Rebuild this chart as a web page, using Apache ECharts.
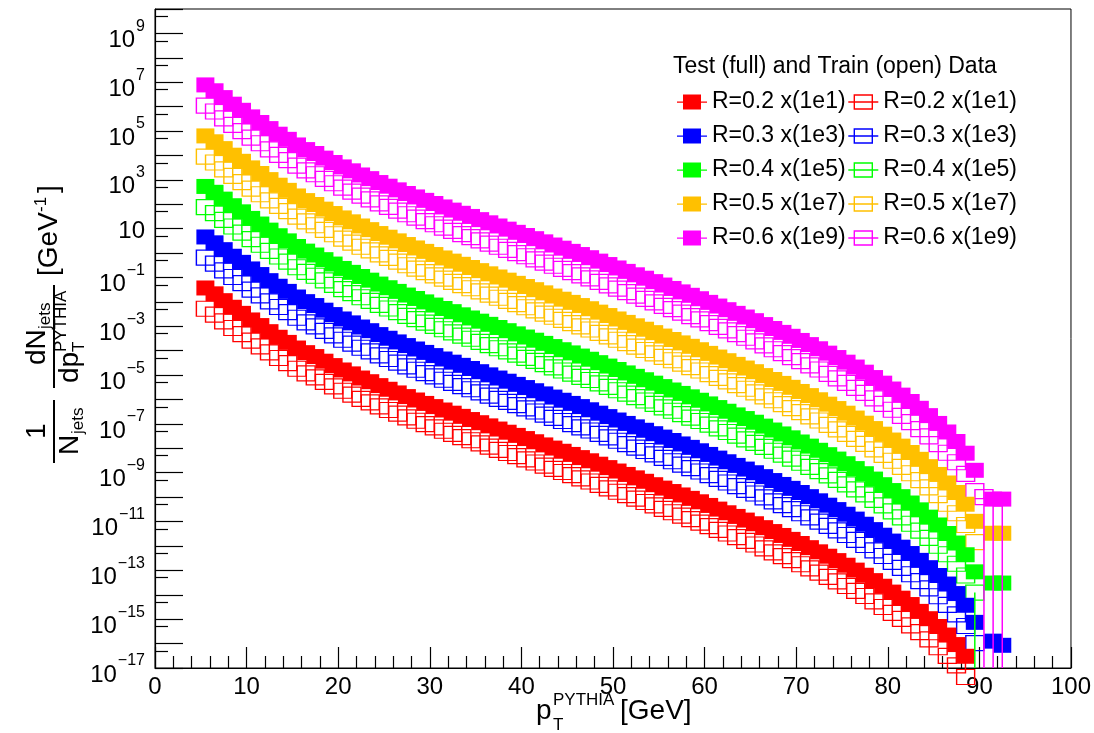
<!DOCTYPE html>
<html><head><meta charset="utf-8">
<script src="https://cdn.jsdelivr.net/npm/echarts@6/dist/echarts.min.js"></script>
<style>html,body{margin:0;padding:0;background:#fff}#c{width:1094px;height:733px}</style>
</head><body><div id="c"></div>
<script>
// bin centres of p_T (GeV)
const pT = [5.5,6.5,7.5,8.5,9.5,10.5,11.5,12.5,13.5,14.5,15.5,16.5,17.5,18.5,19.5,20.5,21.5,22.5,23.5,24.5,25.5,26.5,27.5,28.5,29.5,30.5,31.5,32.5,33.5,34.5,35.5,36.5,37.5,38.5,39.5,40.5,41.5,42.5,43.5,44.5,45.5,46.5,47.5,48.5,49.5,50.5,51.5,52.5,53.5,54.5,55.5,56.5,57.5,58.5,59.5,60.5,61.5,62.5,63.5,64.5,65.5,66.5,67.5,68.5,69.5,70.5,71.5,72.5,73.5,74.5,75.5,76.5,77.5,78.5,79.5,80.5,81.5,82.5,83.5,84.5,85.5,86.5,87.5,88.5,89.5,90.5,91.5,92.5];

// log10 of the plotted value (spectrum x legend factor)
const testR02 = [-1.43,-1.67,-1.95,-2.22,-2.47,-2.74,-2.97,-3.22,-3.45,-3.66,-3.89,-4.08,-4.24,-4.43,-4.61,-4.79,-4.95,-5.12,-5.27,-5.43,-5.58,-5.73,-5.88,-6.02,-6.16,-6.29,-6.43,-6.56,-6.69,-6.82,-6.95,-7.08,-7.21,-7.34,-7.47,-7.60,-7.73,-7.86,-7.99,-8.12,-8.25,-8.38,-8.51,-8.65,-8.79,-8.93,-9.07,-9.21,-9.35,-9.49,-9.63,-9.77,-9.91,-10.05,-10.19,-10.34,-10.49,-10.64,-10.79,-10.94,-11.09,-11.25,-11.41,-11.57,-11.73,-11.90,-12.07,-12.24,-12.42,-12.60,-12.79,-12.99,-13.20,-13.42,-13.65,-13.89,-14.14,-14.40,-14.68,-14.98,-15.30,-15.65,-16.04,-16.52,null,null,null,null];
const trainR02 = [-2.28,-2.52,-2.80,-3.07,-3.32,-3.59,-3.82,-4.07,-4.30,-4.51,-4.74,-4.93,-5.09,-5.28,-5.46,-5.64,-5.80,-5.97,-6.12,-6.28,-6.43,-6.58,-6.73,-6.87,-7.01,-7.14,-7.28,-7.41,-7.54,-7.67,-7.80,-7.93,-8.06,-8.19,-8.32,-8.45,-8.58,-8.71,-8.84,-8.97,-9.10,-9.23,-9.36,-9.50,-9.64,-9.78,-9.92,-10.06,-10.20,-10.34,-10.48,-10.62,-10.76,-10.90,-11.04,-11.19,-11.34,-11.49,-11.64,-11.79,-11.94,-12.10,-12.26,-12.42,-12.58,-12.75,-12.92,-13.09,-13.27,-13.45,-13.64,-13.84,-14.05,-14.27,-14.50,-14.74,-14.99,-15.25,-15.53,-15.83,-16.15,-16.50,-16.89,-17.37,null,null,null,null];
const testR03 = [0.66,0.42,0.14,-0.13,-0.38,-0.65,-0.88,-1.13,-1.36,-1.57,-1.80,-1.99,-2.15,-2.34,-2.52,-2.70,-2.86,-3.03,-3.18,-3.34,-3.49,-3.64,-3.79,-3.93,-4.07,-4.20,-4.34,-4.47,-4.60,-4.73,-4.86,-4.99,-5.12,-5.25,-5.38,-5.51,-5.64,-5.77,-5.90,-6.03,-6.16,-6.29,-6.42,-6.56,-6.70,-6.84,-6.98,-7.12,-7.26,-7.40,-7.54,-7.68,-7.82,-7.96,-8.10,-8.25,-8.40,-8.55,-8.70,-8.85,-9.00,-9.16,-9.32,-9.48,-9.64,-9.81,-9.98,-10.15,-10.33,-10.51,-10.70,-10.90,-11.11,-11.33,-11.56,-11.80,-12.05,-12.31,-12.59,-12.89,-13.21,-13.56,-13.95,-14.43,-15.13,null,-15.90,-16.07];
const trainR03 = [-0.19,-0.43,-0.71,-0.98,-1.23,-1.50,-1.73,-1.98,-2.21,-2.42,-2.65,-2.84,-3.00,-3.19,-3.37,-3.55,-3.71,-3.88,-4.03,-4.19,-4.34,-4.49,-4.64,-4.78,-4.92,-5.05,-5.19,-5.32,-5.45,-5.58,-5.71,-5.84,-5.97,-6.10,-6.23,-6.36,-6.49,-6.62,-6.75,-6.88,-7.01,-7.14,-7.27,-7.41,-7.55,-7.69,-7.83,-7.97,-8.11,-8.25,-8.39,-8.53,-8.67,-8.81,-8.95,-9.10,-9.25,-9.40,-9.55,-9.70,-9.85,-10.01,-10.17,-10.33,-10.49,-10.66,-10.83,-11.00,-11.18,-11.36,-11.55,-11.75,-11.96,-12.18,-12.41,-12.65,-12.90,-13.16,-13.44,-13.74,-14.06,-14.41,-14.80,-15.28,-15.98,null,null,null];
const testR04 = [2.73,2.49,2.21,1.94,1.69,1.42,1.19,0.94,0.71,0.50,0.27,0.08,-0.08,-0.27,-0.45,-0.63,-0.79,-0.96,-1.11,-1.27,-1.42,-1.57,-1.72,-1.86,-2.00,-2.13,-2.27,-2.40,-2.53,-2.66,-2.79,-2.92,-3.05,-3.18,-3.31,-3.44,-3.57,-3.70,-3.83,-3.96,-4.09,-4.22,-4.35,-4.49,-4.63,-4.77,-4.91,-5.05,-5.19,-5.33,-5.47,-5.61,-5.75,-5.89,-6.03,-6.18,-6.33,-6.48,-6.63,-6.78,-6.93,-7.09,-7.25,-7.41,-7.57,-7.74,-7.91,-8.08,-8.26,-8.44,-8.63,-8.83,-9.04,-9.26,-9.49,-9.73,-9.98,-10.24,-10.52,-10.82,-11.14,-11.49,-11.88,-12.36,-13.06,null,-13.52,-13.52];
const trainR04 = [1.88,1.64,1.36,1.09,0.84,0.57,0.34,0.09,-0.14,-0.35,-0.58,-0.77,-0.93,-1.12,-1.30,-1.48,-1.64,-1.81,-1.96,-2.12,-2.27,-2.42,-2.57,-2.71,-2.85,-2.98,-3.12,-3.25,-3.38,-3.51,-3.64,-3.77,-3.90,-4.03,-4.16,-4.29,-4.42,-4.55,-4.68,-4.81,-4.94,-5.07,-5.20,-5.34,-5.48,-5.62,-5.76,-5.90,-6.04,-6.18,-6.32,-6.46,-6.60,-6.74,-6.88,-7.03,-7.18,-7.33,-7.48,-7.63,-7.78,-7.94,-8.10,-8.26,-8.42,-8.59,-8.76,-8.93,-9.11,-9.29,-9.48,-9.68,-9.89,-10.11,-10.34,-10.58,-10.83,-11.09,-11.37,-11.67,-11.99,-12.34,-12.73,-13.21,-13.91,null,null,null];
const testR05 = [4.80,4.56,4.28,4.01,3.76,3.49,3.26,3.01,2.78,2.57,2.34,2.15,1.99,1.80,1.62,1.44,1.28,1.11,0.96,0.80,0.65,0.50,0.35,0.21,0.07,-0.06,-0.20,-0.33,-0.46,-0.59,-0.72,-0.85,-0.98,-1.11,-1.24,-1.37,-1.50,-1.63,-1.76,-1.89,-2.02,-2.15,-2.28,-2.42,-2.56,-2.70,-2.84,-2.98,-3.12,-3.26,-3.40,-3.54,-3.68,-3.82,-3.96,-4.11,-4.26,-4.41,-4.56,-4.71,-4.86,-5.02,-5.18,-5.34,-5.50,-5.67,-5.84,-6.01,-6.19,-6.37,-6.56,-6.76,-6.97,-7.19,-7.42,-7.66,-7.91,-8.17,-8.45,-8.75,-9.07,-9.42,-9.81,-10.29,-10.99,null,-11.48,-11.48];
const trainR05 = [3.95,3.71,3.43,3.16,2.91,2.64,2.41,2.16,1.93,1.72,1.49,1.30,1.14,0.95,0.77,0.59,0.43,0.26,0.11,-0.05,-0.20,-0.35,-0.50,-0.64,-0.78,-0.91,-1.05,-1.18,-1.31,-1.44,-1.57,-1.70,-1.83,-1.96,-2.09,-2.22,-2.35,-2.48,-2.61,-2.74,-2.87,-3.00,-3.13,-3.27,-3.41,-3.55,-3.69,-3.83,-3.97,-4.11,-4.25,-4.39,-4.53,-4.67,-4.81,-4.96,-5.11,-5.26,-5.41,-5.56,-5.71,-5.87,-6.03,-6.19,-6.35,-6.52,-6.69,-6.86,-7.04,-7.22,-7.41,-7.61,-7.82,-8.04,-8.27,-8.51,-8.76,-9.02,-9.30,-9.60,-9.92,-10.27,-10.66,-11.14,-11.84,null,null,null];
const testR06 = [6.89,6.65,6.37,6.10,5.85,5.58,5.35,5.10,4.87,4.66,4.43,4.24,4.08,3.89,3.71,3.53,3.37,3.20,3.05,2.89,2.74,2.59,2.44,2.30,2.16,2.03,1.89,1.76,1.63,1.50,1.37,1.24,1.11,0.98,0.85,0.72,0.59,0.46,0.33,0.20,0.07,-0.06,-0.19,-0.33,-0.47,-0.61,-0.75,-0.89,-1.03,-1.17,-1.31,-1.45,-1.59,-1.73,-1.87,-2.02,-2.17,-2.32,-2.47,-2.62,-2.77,-2.93,-3.09,-3.25,-3.41,-3.58,-3.75,-3.92,-4.10,-4.28,-4.47,-4.67,-4.88,-5.10,-5.33,-5.57,-5.82,-6.08,-6.36,-6.66,-6.98,-7.33,-7.72,-8.20,-8.90,null,-10.08,-10.08];
const trainR06 = [6.04,5.80,5.52,5.25,5.00,4.73,4.50,4.25,4.02,3.81,3.58,3.39,3.23,3.04,2.86,2.68,2.52,2.35,2.20,2.04,1.89,1.74,1.59,1.45,1.31,1.18,1.04,0.91,0.78,0.65,0.52,0.39,0.26,0.13,0.00,-0.13,-0.26,-0.39,-0.52,-0.65,-0.78,-0.91,-1.04,-1.18,-1.32,-1.46,-1.60,-1.74,-1.88,-2.02,-2.16,-2.30,-2.44,-2.58,-2.72,-2.87,-3.02,-3.17,-3.32,-3.47,-3.62,-3.78,-3.94,-4.10,-4.26,-4.43,-4.60,-4.77,-4.95,-5.13,-5.32,-5.52,-5.73,-5.95,-6.18,-6.42,-6.67,-6.93,-7.21,-7.51,-7.83,-8.18,-8.57,-9.05,-9.75,-10.00,null,null];

const radii = ['0.2','0.3','0.4','0.5','0.6'];
const factors = ['1e1','1e3','1e5','1e7','1e9'];
const colors = ['#ff0000','#0000ff','#00ff00','#ffc000','#ff00ff'];
const testSets = [testR02,testR03,testR04,testR05,testR06];
const trainSets = [trainR02,trainR03,trainR04,trainR05,trainR06];
// bins whose lower error bar reaches zero: [radius index, test(0)/train(1), pT]
const floorBars = [[2,1,89.5],[4,1,90.5],[4,0,91.5],[4,0,92.5]];

const yMinorTicks = [5e-17,5e-16,5e-15,5e-14,5e-13,5e-12,5e-11,5e-10,5e-9,5e-8,5e-7,5e-6,5e-5,5e-4,5e-3,5e-2,5e-1,5,50,500,5e3,5e4,5e5,5e6,5e7,5e8,5e9];

const FONT = 'Liberation Sans, Arial, Helvetica, sans-serif';
function toPoints(arr){
  const out=[];
  pT.forEach((x,i)=>{ if(arr[i]!==null && arr[i]!==undefined) out.push([x, Math.pow(10, arr[i])]); });
  return out;
}
const labelFor = i => 'R=' + radii[i] + ' x(' + factors[i] + ')';
const trainName = i => labelFor(i) + '\u200b';

const series = [];
trainSets.forEach((arr,i)=>{
  series.push({type:'scatter', name: trainName(i), xAxisIndex:0, yAxisIndex:0, data: toPoints(arr),
    symbol:'rect', symbolSize:[18,15], clip:false, silent:true, z:2,
    itemStyle:{color:'rgba(255,255,255,0)', borderColor: colors[i], borderWidth:1.3, opacity:1}});
});
testSets.forEach((arr,i)=>{
  series.push({type:'scatter', name: labelFor(i), xAxisIndex:0, yAxisIndex:0, data: toPoints(arr),
    symbol:'rect', symbolSize:[18,15], clip:false, silent:true, z:3,
    itemStyle:{color: colors[i], borderWidth:0, opacity:1}});
});
const barData = floorBars.map(b => {
  const arr = (b[1]===0 ? testSets : trainSets)[b[0]];
  const idx = pT.indexOf(b[2]);
  return [b[2], Math.pow(10, arr[idx]), b[0]];
});
series.push({type:'custom', xAxisIndex:0, yAxisIndex:0, z:4, silent:true, clip:false, data: barData,
  renderItem: (params, api) => {
    const top = api.coord([api.value(0), api.value(1)]);
    const bot = api.coord([api.value(0), 1e-17]);
    return {type:'line', shape:{x1:top[0], y1:top[1], x2:bot[0], y2:bot[1]},
      style:{stroke: colors[api.value(2)], lineWidth:1.5}};
  }});

const legendData = [];
radii.forEach((r,i)=>{
  legendData.push({name: labelFor(i), icon:'path://M0,7 L30,7 L30,8.2 L0,8.2 Z M6,0 L24,0 L24,15 L6,15 Z',
    itemStyle:{color: colors[i], borderWidth:0}});
  legendData.push({name: trainName(i), icon:'path://M0,7.5 L30,7.5 M6,0.5 L24,0.5 L24,14.5 L6,14.5 Z',
    itemStyle:{color:'rgba(255,255,255,0)', borderColor: colors[i], borderWidth:1.4}});
});

const ylabelFmt = v => {
  const e = Math.round(v);
  if (e % 2 === 0) return '';
  if (e === 1) return '{c|10}';
  return '{b|10}{s|' + (e < 0 ? '\u2212' + (-e) : String(e)) + '}';
};

const T = (x, y, text, size) => ({type:'text', x:x, y:y, style:{text:text, font: size + 'px ' + FONT, fill:'#000'}});

const chart = echarts.init(document.getElementById('c'), null, {renderer:'canvas'});
chart.setOption({
  animation:false,
  backgroundColor:'#fff',
  grid:{left:155, right:23, top:9, bottom:65, show:true, borderColor:'#000', borderWidth:1, backgroundColor:'rgba(0,0,0,0)'},
  xAxis:[{type:'value', min:0, max:100, interval:10, position:'bottom',
    axisLine:{show:true, onZero:false, lineStyle:{color:'#000', width:1.2}},
    axisTick:{show:true, inside:true, length:21, lineStyle:{color:'#000', width:1.2}},
    minorTick:{show:true, splitNumber:5, length:12, lineStyle:{color:'#000', width:1.2}},
    axisLabel:{fontSize:24, color:'#000', margin:7, fontFamily:FONT},
    splitLine:{show:false}, minorSplitLine:{show:false}}],
  yAxis:[
    {type:'log', logBase:10, min:1e-17, max:1e10, show:false, position:'left'},
    {type:'value', min:-17, max:10, interval:1, position:'left',
      axisLine:{show:true, onZero:false, lineStyle:{color:'#000', width:1.2}},
      axisTick:{show:true, inside:true, length:28, lineStyle:{color:'#000', width:1.2}},
      axisLabel:{show:true, margin:10, color:'#000', fontFamily:FONT, formatter: ylabelFmt,
        rich:{
          b:{fontSize:24, lineHeight:24, padding:[14,0,0,0], fontFamily:FONT, color:'#000'},
          s:{fontSize:16, lineHeight:16, padding:[4,0,18,1], fontFamily:FONT, color:'#000'},
          c:{fontSize:24, lineHeight:24, padding:[5,0,0,0], fontFamily:FONT, color:'#000'}
        }},
      splitLine:{show:false}},
    {type:'log', logBase:10, min:1e-17, max:1e10, position:'left',
      axisLine:{show:false, onZero:false}, axisLabel:{show:false}, splitLine:{show:false},
      axisTick:{show:true, inside:true, length:13, customValues: yMinorTicks, lineStyle:{color:'#000', width:1.2}}}
  ],
  legend:{left:677, top:86, padding:0, width:345, orient:'horizontal', itemWidth:30, itemHeight:15, itemGap:2,
    selectedMode:false, data: legendData,
    textStyle:{fontSize:23, color:'#000', lineHeight:32, fontFamily:FONT}},
  graphic:[
    {type:'text', left:673, top:55, style:{text:'Test (full) and Train (open) Data', font:'23px '+FONT, fill:'#000'}},
    // x axis title, centred under the axis
    T(536, 697, 'p', 28),
    T(553, 692, 'PYTHIA', 17),
    T(553, 717, 'T', 17),
    T(620, 697, '[GeV]', 28),
    // y axis title (rotated, reads bottom to top)
    {type:'group', x:54, y:465, rotation:Math.PI/2, children:[
      T(26, -31, '1', 28),
      {type:'line', shape:{x1:2, y1:0, x2:65, y2:0}, style:{stroke:'#000', lineWidth:2}},
      T(10, 2, 'N', 28),
      T(31, 16, 'jets', 17),
      {type:'line', shape:{x1:77, y1:0, x2:180, y2:0}, style:{stroke:'#000', lineWidth:2}},
      T(100, -31, 'dN', 28),
      T(136, -17, 'jets', 17),
      T(82, 2, 'dp', 28),
      T(113, 17, 'T', 17),
      T(113, -1, 'PYTHIA', 17),
      T(189, -19, '[GeV', 28),
      T(253, -21, '-1', 17),
      T(272, -19, ']', 28)
    ]}
  ],
  series: series
});
</script>
</body></html>
